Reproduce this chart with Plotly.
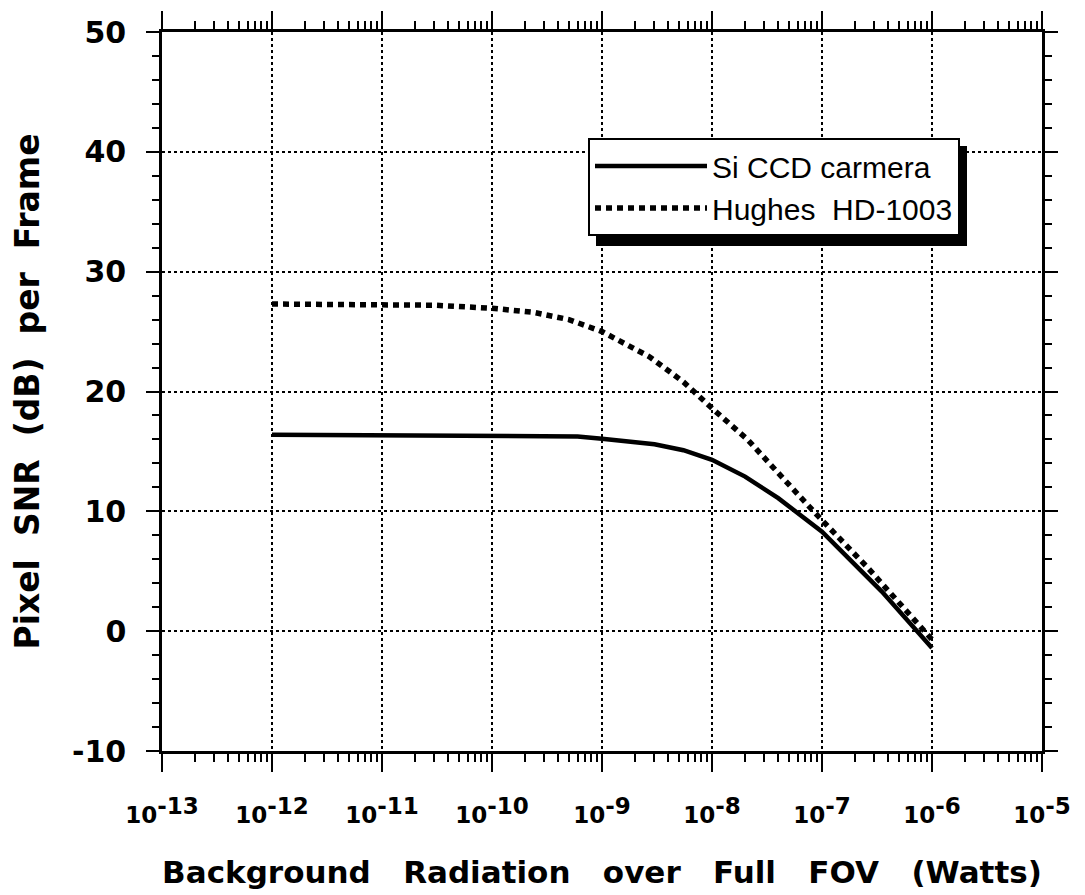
import plotly.graph_objects as go

# Data
si_ccd_x = [1e-12, 1e-11, 1e-10, 6e-10, 1e-9, 3e-9, 5.5e-9, 1e-8, 2e-8, 4e-8, 1e-7, 3.5e-7, 1e-6]
si_ccd_y = [16.4, 16.35, 16.3, 16.25, 16.05, 15.6, 15.1, 14.3, 12.9, 11.1, 8.3, 3.3, -1.4]

hughes_x = [1e-12, 1e-11, 3e-11, 1e-10, 2.4e-10, 5e-10, 1e-9, 2.7e-9, 5.5e-9, 1e-8, 2.1e-8, 4e-8, 9e-8, 2.6e-7, 1e-6]
hughes_y = [27.3, 27.3, 27.2, 26.95, 26.6, 26.0, 25.0, 22.9, 20.8, 18.6, 16.0, 13.2, 9.7, 5.3, -0.7]

x_exponents = [-13, -12, -11, -10, -9, -8, -7, -6, -5]
y_ticks = [-10, 0, 10, 20, 30, 40, 50]

series_names = ["Si CCD carmera", "Hughes\u00a0 HD-1003"]
x_title = "Background\u00a0\u00a0 Radiation\u00a0\u00a0 over\u00a0\u00a0 Full\u00a0\u00a0 FOV\u00a0\u00a0 (Watts)"
y_title = "Pixel\u00a0 SNR\u00a0 (dB)\u00a0 per\u00a0 Frame"

x_tickvals = [10.0 ** e for e in x_exponents]
x_ticktext = [f"10<sup><span style='font-size:23px'>-{abs(e)}</span></sup>" for e in x_exponents]
y_ticktext = [str(v) for v in y_ticks]

fig = go.Figure()
fig.add_trace(go.Scatter(x=si_ccd_x, y=si_ccd_y, mode="lines", name=series_names[0],
                         line=dict(color="black", width=4.5)))
fig.add_trace(go.Scatter(x=hughes_x, y=hughes_y, mode="lines", name=series_names[1],
                         line=dict(color="black", width=5.5, dash="6px,5px")))

tick_font = dict(family="DejaVu Sans", size=23, color="black", weight="bold")

fig.update_xaxes(
    type="log", range=[-13, -5], automargin=False,
    tickvals=x_tickvals, ticktext=x_ticktext,
    ticks="outside", ticklen=18, tickwidth=2, tickcolor="black",
    showline=True, linecolor="black", linewidth=2.5, mirror="ticks",
    showgrid=True, gridcolor="black", gridwidth=1.5, griddash="dot",
    minor=dict(ticks="outside", ticklen=8, tickwidth=1.5, tickcolor="black", dtick="D1", showgrid=False),
    tickfont=tick_font, ticklabelstandoff=24,
    title=dict(text=x_title, font=dict(family="DejaVu Sans", size=31, color="black", weight="bold"),
               standoff=34),
    zeroline=False,
)
fig.update_yaxes(
    range=[-10, 50], tickvals=y_ticks, ticktext=y_ticktext, automargin=False,
    ticks="outside", ticklen=13, tickwidth=2, tickcolor="black",
    showline=True, linecolor="black", linewidth=2.5, mirror="ticks",
    showgrid=True, gridcolor="black", gridwidth=1.5, griddash="dot",
    minor=dict(ticks="outside", ticklen=7, tickwidth=1.5, tickcolor="black", dtick=2, showgrid=False),
    tickfont=dict(family="DejaVu Sans", size=30, color="black", weight="bold"),
    ticklabelstandoff=14,
    title=dict(text=y_title, font=dict(family="DejaVu Sans", size=33, color="black", weight="bold"),
               standoff=28),
    zeroline=False,
)

# Plot area in page pixels (page body has an 8px margin)
PX0, PX1, PY0, PY1 = 162, 1042, 32, 751


def px(xpix):
    return (xpix - PX0) / (PX1 - PX0)


def py(ypix):
    return (PY1 - ypix) / (PY1 - PY0)


# legend shadow (decoration)
fig.add_shape(type="rect", xref="paper", yref="paper", layer="above",
              x0=px(596), x1=px(967), y0=py(246), y1=py(146),
              fillcolor="black", line=dict(width=0))

fig.update_layout(
    width=1085, height=895,
    margin=dict(l=PX0 - 8, r=1085 - PX1 + 8, t=PY0 - 8, b=895 - PY1 + 8),
    paper_bgcolor="white", plot_bgcolor="white",
    showlegend=True,
    legend=dict(x=px(588), y=py(138), xanchor="left", yanchor="top",
                bgcolor="white", bordercolor="black", borderwidth=2,
                font=dict(family="Liberation Sans", size=30, color="black"),
                itemwidth=112, tracegroupgap=0),
)

fig.write_html("out.html")
